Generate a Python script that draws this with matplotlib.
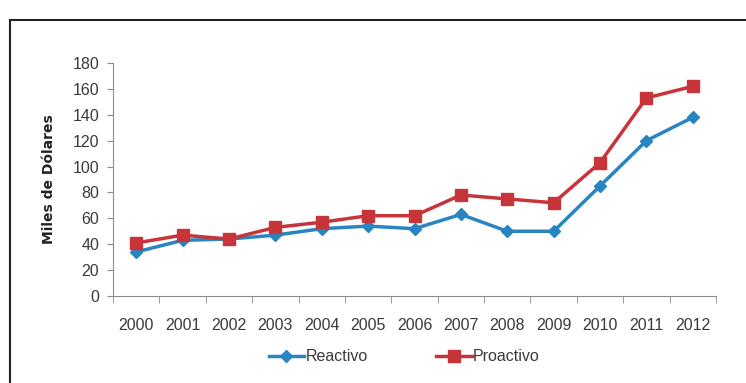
import matplotlib
matplotlib.use("Agg")
import matplotlib.pyplot as plt
from matplotlib.patches import Rectangle
import numpy as np

plt.rcParams['font.family'] = ['Liberation Sans Narrow', 'Liberation Sans', 'DejaVu Sans']

years = ["2000", "2001", "2002", "2003", "2004", "2005", "2006",
         "2007", "2008", "2009", "2010", "2011", "2012"]
reactivo = [34, 43, 44, 47, 52, 54, 52, 63, 50, 50, 85, 120, 138]
proactivo = [41, 47, 44, 53, 57, 62, 62, 78, 75, 72, 103, 153, 162]

blue = "#2785c2"
red = "#c7343a"
txt = "#3a3a3a"

fig = plt.figure(figsize=(7.46, 3.83), dpi=100)
ax = fig.add_axes([0.1515, 0.2272, 0.8083, 0.6083])

x = np.arange(len(years))
ax.plot(x, reactivo, color=blue, linewidth=2.5, marker="D", markersize=6,
        label="Reactivo")
ax.plot(x, proactivo, color=red, linewidth=2.5, marker="s", markersize=8,
        label="Proactivo")

ax.set_xlim(-0.5, len(years) - 0.5)
ax.set_ylim(0, 180)
ax.set_yticks(range(0, 181, 20))
ax.set_xticks(x)
ax.set_xticklabels(years)
ax.set_xticks(np.arange(-0.5, len(years), 1), minor=True)
ax.tick_params(axis="x", which="major", length=0, pad=16, labelsize=11.5,
               labelcolor=txt)
ax.tick_params(axis="x", which="minor", length=5, color="#8c8c8c", direction="out")
ax.tick_params(axis="y", length=4, color="#8c8c8c", labelsize=11.5,
               labelcolor=txt, pad=6)

for side in ["top", "right"]:
    ax.spines[side].set_visible(False)
ax.spines["left"].set_color("#8c8c8c")
ax.spines["bottom"].set_color("#8c8c8c")

ax.set_ylabel("Miles de Dólares", fontsize=10, fontweight="bold",
              family=["DejaVu Sans"], color="#222222", labelpad=12)

leg = fig.legend(loc="center", bbox_to_anchor=(0.542, 0.068), ncol=2,
                 frameon=False, fontsize=11.5, handlelength=2.2,
                 handletextpad=0.1, columnspacing=4.3)
for t in leg.get_texts():
    t.set_color(txt)

# outer frame
fig.patches.append(Rectangle((10 / 746, -0.1), 1.0, 1 - 20 / 383 + 0.1,
                             transform=fig.transFigure, fill=False,
                             edgecolor="#222222", linewidth=1.5))

fig.savefig("out.png", dpi=100)
